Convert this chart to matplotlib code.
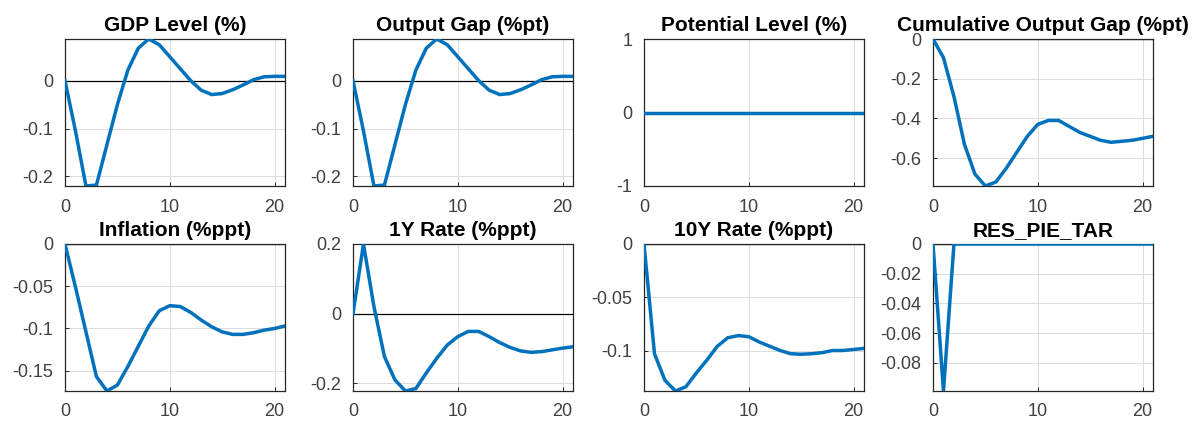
import numpy as np
import matplotlib
matplotlib.use('Agg')
import matplotlib.pyplot as plt

plt.rcParams['font.family'] = ['Liberation Sans', 'DejaVu Sans']
plt.rcParams['axes.unicode_minus'] = False

# quarters 0..21
periods = list(range(22))

titles = ['GDP Level (%)', 'Output Gap (%pt)', 'Potential Level (%)', 'Cumulative Output Gap (%pt)',
          'Inflation (%ppt)', '1Y Rate (%ppt)', '10Y Rate (%ppt)', 'RES_PIE_TAR']

gdp_level = [0, -0.105, -0.22, -0.218, -0.134, -0.05, 0.022, 0.068, 0.087, 0.075, 0.05,
             0.025, 0.0, -0.02, -0.029, -0.027, -0.019, -0.009, 0.002, 0.008, 0.009, 0.009]
output_gap = [0, -0.105, -0.22, -0.218, -0.134, -0.05, 0.022, 0.068, 0.087, 0.075, 0.05,
              0.025, 0.0, -0.02, -0.029, -0.027, -0.019, -0.009, 0.002, 0.008, 0.009, 0.009]
potential_level = [0] * 22
cum_output_gap = [0, -0.094, -0.29, -0.53, -0.68, -0.74, -0.72, -0.65, -0.57, -0.49, -0.43,
                  -0.41, -0.41, -0.44, -0.47, -0.49, -0.51, -0.52, -0.515, -0.51, -0.50, -0.49]
inflation = [0, -0.051, -0.104, -0.157, -0.174, -0.167, -0.145, -0.121, -0.097, -0.079, -0.073,
             -0.074, -0.081, -0.09, -0.098, -0.104, -0.107, -0.107, -0.105, -0.102, -0.1, -0.097]
rate_1y = [0, 0.2, 0.02, -0.123, -0.19, -0.222, -0.215, -0.17, -0.128, -0.09, -0.066,
           -0.051, -0.051, -0.066, -0.083, -0.097, -0.107, -0.111, -0.109, -0.104, -0.099, -0.095]
rate_10y = [0, -0.103, -0.128, -0.138, -0.134, -0.121, -0.109, -0.096, -0.088, -0.086, -0.087,
            -0.092, -0.096, -0.1, -0.103, -0.1035, -0.103, -0.102, -0.1, -0.1, -0.099, -0.098]
res_pie_tar = [0, -0.099] + [0] * 20

yticks = [[-0.2, -0.1, 0], [-0.2, -0.1, 0], [-1, 0, 1], [-0.6, -0.4, -0.2, 0],
          [-0.15, -0.1, -0.05, 0], [-0.2, 0, 0.2], [-0.1, -0.05, 0],
          [-0.08, -0.06, -0.04, -0.02, 0]]
xticks = [0, 10, 20]

series = [gdp_level, output_gap, potential_level, cum_output_gap,
          inflation, rate_1y, rate_10y, res_pie_tar]

W, H = 1202, 422
fig = plt.figure(figsize=(W / 100, H / 100), dpi=100)

lefts = [65, 353, 644, 933]
tops = [39, 244]
aw, ah = 220, 147

for i, (title, y) in enumerate(zip(titles, series)):
    r, c = divmod(i, 4)
    ax = fig.add_axes([lefts[c] / W, 1 - (tops[r] + ah) / H, aw / W, ah / H])
    y = np.array(y, dtype=float)
    ax.axhline(0, color='k', lw=0.9, zorder=2)
    ax.plot(periods, y, color='#0072BD', lw=2.5, zorder=3)
    ax.set_xlim(0, 21)
    if y.max() == y.min():
        ax.set_ylim(-1, 1)
    else:
        ax.set_ylim(y.min(), y.max())
    ax.set_xticks(xticks)
    ax.set_yticks(yticks[i])
    ax.set_yticklabels([f'{v:g}' for v in yticks[i]])
    ax.grid(True, color='#dcdcdc', lw=0.7)
    ax.set_axisbelow(True)
    for s in ax.spines.values():
        s.set_color('#262626')
        s.set_linewidth(0.9)
    ax.tick_params(direction='in', length=3, width=0.7, colors='#262626',
                   labelcolor='#404040', labelsize=13)
    ax.tick_params(axis='y', pad=8.5)
    ax.tick_params(axis='x', pad=9)
    ax.set_title(title, fontsize=15, fontweight='bold', pad=6)

fig.savefig('out.png', dpi=100)
